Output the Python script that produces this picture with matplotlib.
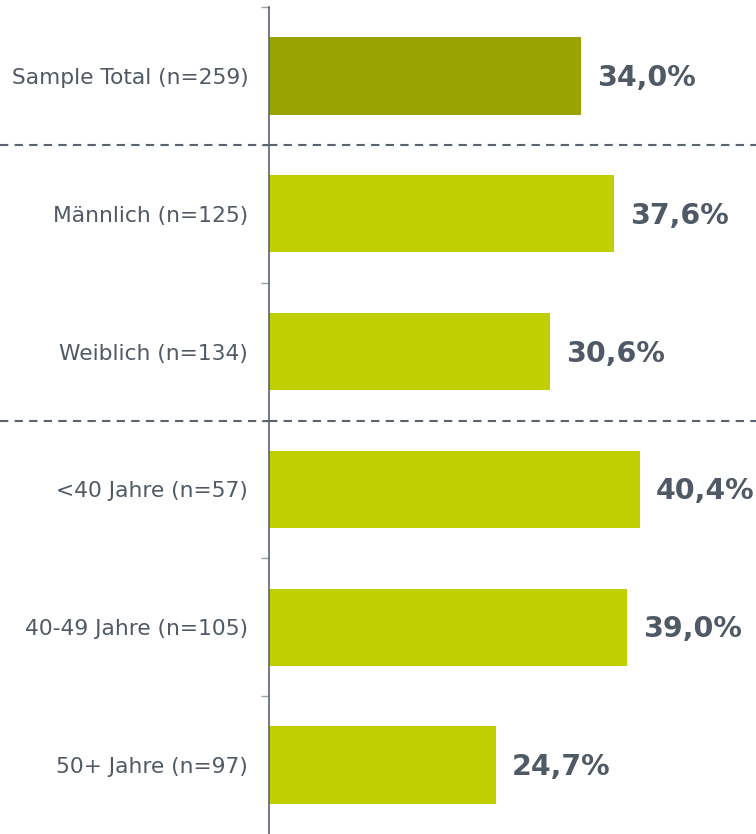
import matplotlib
matplotlib.use("Agg")
import matplotlib.pyplot as plt
from matplotlib.ticker import FixedLocator, NullLocator

categories = ["Sample Total (n=259)", "Männlich (n=125)", "Weiblich (n=134)",
              "<40 Jahre (n=57)", "40-49 Jahre (n=105)", "50+ Jahre (n=97)"]
values = [34.0, 37.6, 30.6, 40.4, 39.0, 24.7]
value_labels = ["34,0%", "37,6%", "30,6%", "40,4%", "39,0%", "24,7%"]
separators_after = [0, 2]

dark_green = "#9AA400"
light_green = "#C0CF00"
text_color = "#4F5A66"
axis_color = "#5A6470"

W, H = 756, 834
fig = plt.figure(figsize=(W / 100, H / 100), dpi=100)
ax = fig.add_axes([269 / W, 0.0 / H, 1 - 269 / W, 827 / H])

ypos = list(range(len(categories)))
colors = [dark_green] + [light_green] * (len(categories) - 1)
ax.barh(ypos, values, height=0.56, color=colors, edgecolor="none", zorder=2)

ax.set_xlim(0, 53.07)
ax.set_ylim(len(categories) - 0.5, -0.5)

for y, v, lab in zip(ypos, values, value_labels):
    ax.annotate(lab, xy=(v, y), xytext=(16, -2), textcoords="offset pixels",
                ha="left", va="center", fontsize=20.5, fontweight="bold",
                color=text_color, family="DejaVu Sans")

for s in separators_after:
    ax.axhline(s + 0.5, xmin=0, xmax=1, color=axis_color, lw=1.5,
               dashes=(4, 3), zorder=3, clip_on=False)
    fig.add_artist(plt.Line2D([0, 269 / W], [ax.transData.transform((0, s + 0.5))[1] / H] * 2,
                              transform=fig.transFigure, color=axis_color, lw=1.5, dashes=(4, 3)))

ax.set_yticks(ypos)
ax.set_yticklabels(categories, fontsize=15.7, color=text_color)
ax.tick_params(axis="y", which="major", length=0, pad=15)
ax.yaxis.set_minor_locator(FixedLocator([i - 0.5 for i in range(len(categories))]))
ax.tick_params(axis="y", which="minor", length=6, width=1, color="#9AA0A8")
ax.xaxis.set_major_locator(NullLocator())

for side in ["top", "right", "bottom"]:
    ax.spines[side].set_visible(False)
ax.spines["left"].set_color(axis_color)
ax.spines["left"].set_linewidth(1.2)

fig.savefig("out.png", dpi=100)
